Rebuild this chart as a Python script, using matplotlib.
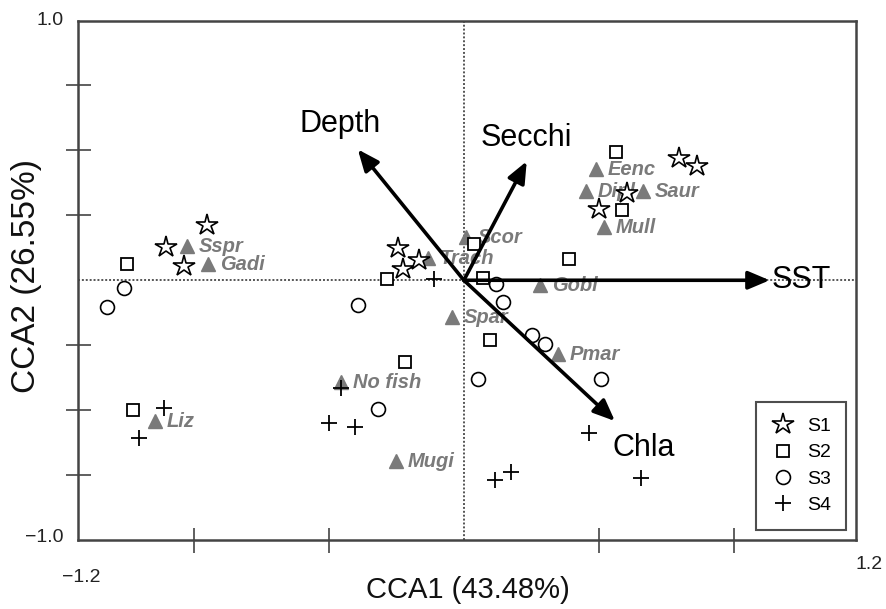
import matplotlib
matplotlib.use("Agg")
import matplotlib.pyplot as plt

plt.rcParams['font.family'] = ['Liberation Sans', 'DejaVu Sans']

# --- Data ---
env_names = ["SST", "Depth", "Secchi", "Chla"]
env_x = [0.905, -0.314, 0.186, 0.447]
env_y = [0.0, 0.504, 0.458, -0.542]

species = ["Sspr", "Gadi", "Liz", "Trach", "Scor", "Eenc", "Dipl", "Saur",
           "Mull", "Gobl", "Spar", "Pmar", "No fish", "Mugi"]
sp_x = [-0.820, -0.757, -0.914, -0.107, 0.006, 0.391, 0.361, 0.530,
        0.414, 0.225, -0.036, 0.278, -0.364, -0.201]
sp_y = [0.131, 0.062, -0.542, 0.085, 0.165, 0.427, 0.342, 0.342,
        0.204, -0.019, -0.142, -0.285, -0.392, -0.696]

s1_x = [-0.882, -0.761, -0.828, -0.195, -0.180, -0.133, 0.636, 0.689, 0.482, 0.399]
s1_y = [0.127, 0.212, 0.054, 0.123, 0.042, 0.077, 0.469, 0.438, 0.335, 0.273]
s2_x = [-0.997, -0.979, -0.228, -0.175, 0.030, 0.056, 0.077, 0.450, 0.467, 0.311]
s2_y = [0.062, -0.500, 0.004, -0.315, 0.138, 0.008, -0.231, 0.492, 0.269, 0.081]
s3_x = [-1.006, -1.056, -0.314, -0.254, 0.041, 0.095, 0.115, 0.201, 0.240, 0.405]
s3_y = [-0.029, -0.104, -0.096, -0.496, -0.381, -0.015, -0.085, -0.212, -0.246, -0.381]
s4_x = [-0.888, -0.962, -0.089, -0.364, -0.399, -0.322, 0.370, 0.092, 0.139, 0.524]
s4_y = [-0.492, -0.608, 0.004, -0.415, -0.550, -0.565, -0.588, -0.769, -0.738, -0.762]

xlabel = "CCA1 (43.48%)"
ylabel = "CCA2 (26.55%)"

# --- Figure ---
fig = plt.figure(figsize=(8.87, 6.09), dpi=100)
ax = fig.add_axes([0.0876, 0.1133, 0.878, 0.853])
ax.set_xlim(-1.143, 1.162)
ax.set_ylim(-1.0, 1.0)

spine_col = "#444444"
for s in ax.spines.values():
    s.set_color(spine_col)
    s.set_linewidth(1.8)

ax.set_xticks([-0.8, -0.4, 0.4, 0.8])
ax.set_yticks([-0.75, -0.5, -0.25, 0.25, 0.5, 0.75])
ax.tick_params(direction='inout', length=18, width=1.2, color=spine_col,
               labelbottom=False, labelleft=False, top=False, right=False)

# zero lines
ax.axhline(0, color="#555555", lw=1.4, ls=(0, (1, 1)), zorder=1)
ax.axvline(0, color="#555555", lw=1.4, ls=(0, (1, 1)), zorder=1)

# corner labels
lab_kw = dict(fontsize=14, color="#222222")
ax.text(-0.018, 1.0, "1.0", transform=ax.transAxes, ha='right', va='center', **lab_kw)
ax.text(-0.018, 0.005, "\u22121.0", transform=ax.transAxes, ha='right', va='center', **lab_kw)
ax.text(0.005, -0.073, "\u22121.2", transform=ax.transAxes, ha='center', va='center', **lab_kw)
ax.text(1.016, -0.048, "1.2", transform=ax.transAxes, ha='center', va='center', **lab_kw)

fig.text(0.527, 0.032, xlabel, ha='center', va='center', fontsize=21, color="#111111")
fig.text(0.03, 0.547, ylabel, ha='center', va='center', rotation=90, fontsize=24, color="#111111")

# sites
ax.plot(s1_x, s1_y, ls='none', marker='*', ms=16, mfc='white', mec='black', mew=1.2, zorder=4, label='S1')
ax.plot(s2_x, s2_y, ls='none', marker='s', ms=8.5, mfc='white', mec='black', mew=1.3, zorder=4, label='S2')
ax.plot(s3_x, s3_y, ls='none', marker='o', ms=10, mfc='white', mec='black', mew=1.2, zorder=4, label='S3')
ax.plot(s4_x, s4_y, ls='none', marker='+', ms=11, mec='black', mew=1.3, zorder=4, label='S4')

# species
sp_col = "#7a7a7a"
ax.plot(sp_x, sp_y, ls='none', marker='^', ms=10, mfc=sp_col, mec=sp_col, zorder=3)
for n, x, y in zip(species, sp_x, sp_y):
    ax.text(x + 0.035, y, n, fontsize=14.5, color=sp_col, fontweight='bold',
            fontstyle='italic', ha='left', va='center', zorder=3)

# environmental arrows
for n, x, y in zip(env_names, env_x, env_y):
    ax.annotate("", xy=(x, y), xytext=(0, 0),
                arrowprops=dict(arrowstyle='-|>,head_length=1.3,head_width=0.55',
                                color='black', lw=2.6, shrinkA=0, shrinkB=0),
                zorder=5)
env_lab_pos = {"SST": (0.912, 0.0, 'left'), "Depth": (-0.367, 0.603, 'center'),
               "Secchi": (0.186, 0.546, 'center'), "Chla": (0.533, -0.646, 'center')}
for n in env_names:
    lx, ly, ha = env_lab_pos[n]
    ax.text(lx, ly, n, fontsize=22, color='black', ha=ha, va='center', zorder=6)

leg = ax.legend(loc='lower right', bbox_to_anchor=(0.987, 0.02), fontsize=14,
                frameon=True, fancybox=False, edgecolor='#222222',
                handlelength=1.2, handletextpad=0.6, labelspacing=0.45,
                borderpad=0.8, borderaxespad=0)
leg.get_frame().set_linewidth(1.5)

fig.savefig("out.png", dpi=100)
